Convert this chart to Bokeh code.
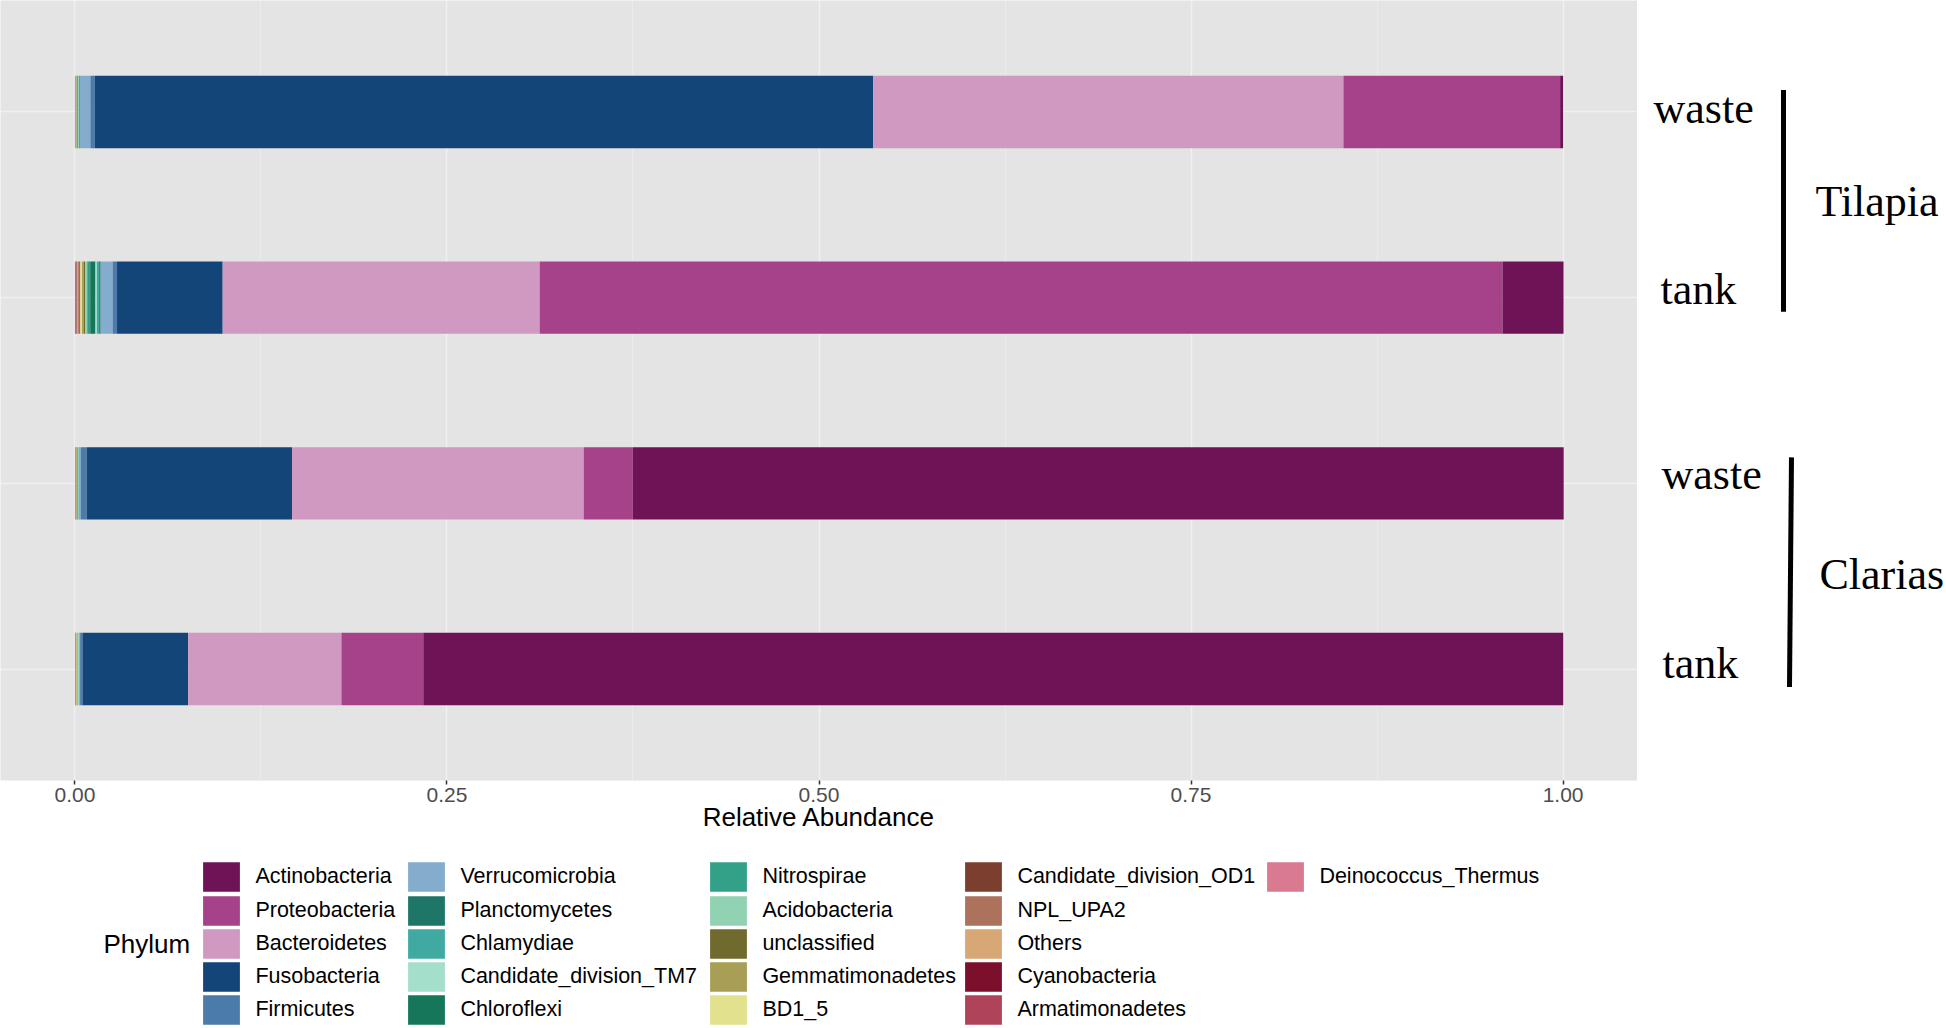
from bokeh.plotting import figure
from bokeh.layouts import column, row
from bokeh.core.properties import value
from bokeh.models import (ColumnDataSource, Range1d, Legend, LegendItem,
                          FixedTicker, NumeralTickFormatter)
from bokeh.embed import file_html
from bokeh.resources import INLINE

# ---------------- data ----------------
phyla = ["Actinobacteria", "Proteobacteria", "Bacteroidetes", "Fusobacteria", "Firmicutes",
         "Verrucomicrobia", "Planctomycetes", "Chlamydiae", "Candidate_division_TM7", "Chloroflexi",
         "Nitrospirae", "Acidobacteria", "unclassified", "Gemmatimonadetes", "BD1_5",
         "Candidate_division_OD1", "NPL_UPA2", "Others", "Cyanobacteria", "Armatimonadetes",
         "Deinococcus_Thermus"]

phylum_colors = ["#6F1357", "#A6428A", "#CF99C1", "#134578", "#4A7BAA",
                 "#84ADCD", "#1D7668", "#40AAA2", "#A3DFCA", "#15765A",
                 "#33A088", "#91D2B2", "#716A2F", "#A89E55", "#E2E28E",
                 "#7C3F2F", "#AC725C", "#D8A776", "#7C0F2C", "#AF4359",
                 "#DA7A91"]

groups = ["Tilapia", "Tilapia", "Clarias", "Clarias"]
sample_types = ["waste", "tank", "waste", "tank"]

tilapia_waste = [0.002, 0.1456, 0.316, 0.523, 0.003,
                 0.007, 0.0003, 0.0005, 0.0005, 0.0003,
                 0.0002, 0.0003, 0.0002, 0.0001, 0.0002,
                 0.0001, 0.0001, 0.0003, 0.0001, 0.0001,
                 0.0001]
tilapia_tank = [0.041, 0.647, 0.213, 0.071, 0.003,
                0.008, 0.001, 0.0015, 0.001, 0.0035,
                0.002, 0.0015, 0.0008, 0.0012, 0.0012,
                0.0006, 0.0008, 0.001, 0.0004, 0.0005,
                0.0003]
clarias_waste = [0.6255, 0.033, 0.196, 0.138, 0.004,
                 0.0008, 0.0003, 0.0003, 0.0004, 0.0002,
                 0.0002, 0.0003, 0.0002, 0.0002, 0.0003,
                 0.0001, 0.0001, 0.0002, 0.0001, 0.0001,
                 0.0001]
clarias_tank = [0.766, 0.055, 0.103, 0.071, 0.0016,
                0.0004, 0.0002, 0.0002, 0.0005, 0.0001,
                0.0002, 0.0005, 0.0001, 0.0002, 0.0004,
                0.0001, 0.0001, 0.0002, 0.0001, 0.0001,
                0.0001]

samples = [tilapia_waste, tilapia_tank, clarias_waste, clarias_tank]
x_ticks = [0.0, 0.25, 0.5, 0.75, 1.0]
x_minor = [0.125, 0.375, 0.625, 0.875]

# ---------------- source ----------------
n = len(samples)
y_pos = [n - i for i in range(n)]          # top bar first
data = {"y": y_pos, "group": groups, "type": sample_types}
for j, ph in enumerate(phyla):
    data[ph] = [s[j] for s in samples]
source = ColumnDataSource(data)

# ---------------- main panel ----------------
FRAME_W, FRAME_H = 1637, 780
y_range = Range1d(0.4, n + 0.6)
p = figure(frame_width=FRAME_W, frame_height=FRAME_H, output_backend="svg",
           toolbar_location=None,
           x_range=Range1d(-0.05, 1.05), y_range=y_range,
           y_axis_location=None, min_border_left=0, min_border_top=0,
           min_border_right=0, min_border_bottom=66,
           background_fill_color="#E4E4E4", border_fill_color="white")
p.outline_line_color = None

stack_order = phyla[::-1]                  # last level drawn at the left
stack_colors = phylum_colors[::-1]
p.hbar_stack(stack_order, y="y", height=0.39, color=stack_colors,
             line_color=None, source=source)

p.xgrid.ticker = FixedTicker(ticks=x_ticks, minor_ticks=x_minor)
p.xgrid.grid_line_color = "white"
p.xgrid.grid_line_width = 1.6
p.xgrid.grid_line_alpha = 0.45
p.xgrid.minor_grid_line_color = "white"
p.xgrid.minor_grid_line_width = 0.8
p.xgrid.minor_grid_line_alpha = 0.35
p.ygrid.ticker = FixedTicker(ticks=y_pos)
p.ygrid.grid_line_color = "white"
p.ygrid.grid_line_width = 1.6
p.ygrid.grid_line_alpha = 0.45

ax = p.xaxis[0]
ax.ticker = FixedTicker(ticks=x_ticks)
ax.formatter = NumeralTickFormatter(format="0.00")
ax.axis_line_color = None
ax.major_tick_line_color = "#333333"
ax.major_tick_line_width = 1.5
ax.major_tick_out = 4
ax.major_tick_in = 0
ax.minor_tick_out = 0
ax.minor_tick_in = 0
ax.major_label_standoff = 3
ax.major_label_text_font = "Liberation Sans"
ax.major_label_text_font_size = "21px"
ax.major_label_text_color = "#4D4D4D"
ax.axis_label = "Relative Abundance"
ax.axis_label_text_font = "Liberation Sans"
ax.axis_label_text_font_size = "26px"
ax.axis_label_text_font_style = "normal"
ax.axis_label_text_color = "black"
ax.axis_label_standoff = -3

# ---------------- right-hand labels ----------------
RIGHT_W = 307
ppu_y = FRAME_H / (y_range.end - y_range.start)
r = figure(frame_width=RIGHT_W, frame_height=FRAME_H, output_backend="svg",
           toolbar_location=None,
           x_range=Range1d(0, RIGHT_W), y_range=y_range,
           x_axis_location=None, y_axis_location=None,
           min_border_left=0, min_border_right=0, min_border_top=0, min_border_bottom=0,
           background_fill_color="white", border_fill_color="white")
r.outline_line_color = None
r.xgrid.visible = False
r.ygrid.visible = False

# text x positions (px from panel edge) and baseline shift (px) relative to each bar centre
label_x = [16, 23, 24, 25]
label_drop = [-3, -8, -9, -6]
lab_src = ColumnDataSource(dict(
    x=label_x + [178, 182],
    y=[y_pos[i] - label_drop[i] / ppu_y for i in range(n)]
      + [(y_pos[0] + y_pos[1]) / 2 + 3 / ppu_y, (y_pos[2] + y_pos[3]) / 2 + 2 / ppu_y],
    text=sample_types + ["Tilapia", "Clarias"],
))
r.text(x="x", y="y", text="text", source=lab_src, text_font=value("Liberation Serif"),
       text_font_size="44px", text_color="black", text_baseline="alphabetic",
       text_align="left")
r.segment(x0=[146, 154], x1=[146, 152],
          y0=[y_pos[0] + 22 / ppu_y, y_pos[2] + 26 / ppu_y],
          y1=[y_pos[1] - 14 / ppu_y, y_pos[3] - 18 / ppu_y],
          line_width=5, line_color="black")

# ---------------- legend strip ----------------
LEG_W, LEG_H = FRAME_W + RIGHT_W, 180
lf = figure(frame_width=LEG_W, frame_height=LEG_H, output_backend="svg",
            toolbar_location=None, x_range=Range1d(0, LEG_W), y_range=Range1d(0, LEG_H),
            x_axis_location=None, y_axis_location=None,
            min_border_left=0, min_border_right=0, min_border_top=0, min_border_bottom=0,
            background_fill_color="white", border_fill_color="white")
lf.outline_line_color = None
lf.xgrid.visible = False
lf.ygrid.visible = False

# legend title
lf.text(x=[103], y=[LEG_H - 97], text=["Phylum"], text_font=value("Liberation Sans"),
        text_font_size="26px", text_color="black", text_baseline="alphabetic",
        text_align="left")

# proxy renderers (zero-width, outside the strip) that carry each phylum's swatch style
proxies = {}
for ph, c in zip(phyla, phylum_colors):
    proxies[ph] = lf.hbar(y=[-50], left=[0], right=[0], height=1, fill_color=c,
                          line_color=None)

# Bokeh draws area swatches at 80% of the glyph box; one legend entry per key
GLYPH_W, GLYPH_H = 46, 37
INSET_X, INSET_Y = GLYPH_W * 0.1, GLYPH_H * 0.1
TOP = 16 - INSET_Y                       # first swatch top, px below strip top
PITCH = 33.2                             # row pitch of the keys
col_x = [203, 408, 710, 965, 1267]       # left edge of the swatches of each column
rows_per_col = 5
for i, ph in enumerate(phyla):
    ci, ri = divmod(i, rows_per_col)
    lg = Legend(items=[LegendItem(label=ph, renderers=[proxies[ph]])],
                orientation="vertical",
                glyph_width=GLYPH_W, glyph_height=GLYPH_H, label_height=GLYPH_H,
                label_standoff=11, spacing=0, padding=0, margin=0,
                label_text_font="Liberation Sans", label_text_font_size="21.5px",
                label_text_color="black",
                border_line_color=None, background_fill_alpha=0,
                location=(col_x[ci] - INSET_X, LEG_H - TOP - ri * PITCH - GLYPH_H))
    lf.add_layout(lg, "center")

layout = column(row(p, r), lf)
open("out.html", "w").write(file_html(layout, INLINE))
